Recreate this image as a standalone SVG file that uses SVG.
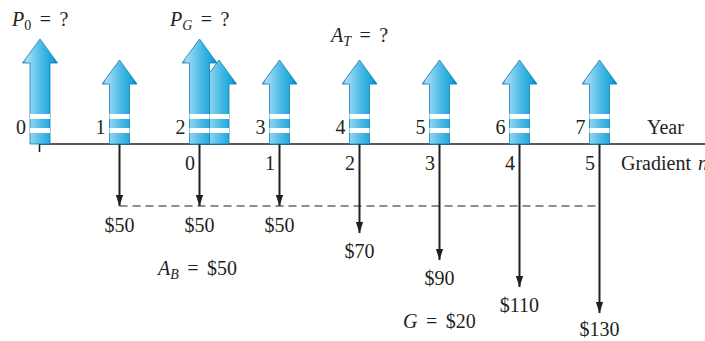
<svg xmlns="http://www.w3.org/2000/svg" width="705" height="341" viewBox="0 0 705 341">
<style>
text{font-family:"Liberation Serif","Times New Roman",serif;font-size:20px;fill:#231f20}
.it{font-style:italic}
.sub{font-size:14px}
.eq{word-spacing:3.5px}
.axis{stroke:#231f20;stroke-width:1.6;fill:none}
.down{stroke:#231f20;stroke-width:2;fill:none;marker-end:url(#ah)}
.dash{stroke:#231f20;stroke-width:1.2;stroke-dasharray:8 5;fill:none}
.up{fill:url(#bg);stroke:#137fb0;stroke-width:0.8}
.gap{fill:#fff}
.mid{text-anchor:middle}
.end{text-anchor:end}
</style>
<defs>
<linearGradient id="bg" x1="0" y1="0" x2="1" y2="0">
<stop offset="0" stop-color="#2f9fd2"/>
<stop offset="0.12" stop-color="#a6dcf3"/>
<stop offset="0.55" stop-color="#48bbe6"/>
<stop offset="0.88" stop-color="#14a2d8"/>
<stop offset="1" stop-color="#0c6e9c"/>
</linearGradient>
<marker id="ah" markerUnits="userSpaceOnUse" markerWidth="11" markerHeight="16" refX="15" refY="5" orient="auto" viewBox="0 0 15 10">
<path d="M0,0 L15,5 L0,10 Z" fill="#231f20"/>
</marker>
<path id="big" d="M-10,144 V63 H-17.5 L0,39 L17.5,63 H10 V144 Z"/>
<path id="small" d="M-10,144 V84 H-17.5 L0,60 L17.5,84 H10 V144 Z"/>
<g id="gaps"><rect x="-10" y="114" width="20" height="5"/><rect x="-10" y="128" width="20" height="5"/></g>
</defs>

<g id="connectors">
<line class="axis" x1="39.5" y1="144" x2="705" y2="144"/>
<line class="axis" x1="39.5" y1="144" x2="39.5" y2="152"/>
<line class="dash" x1="119.5" y1="206" x2="597" y2="206"/>
<line class="down" x1="119.5" y1="144" x2="119.5" y2="206"/>
<line class="down" x1="199.5" y1="144" x2="199.5" y2="206"/>
<line class="down" x1="279.5" y1="144" x2="279.5" y2="206"/>
<line class="down" x1="359.5" y1="144" x2="359.5" y2="233"/>
<line class="down" x1="439.5" y1="144" x2="439.5" y2="260"/>
<line class="down" x1="519.5" y1="144" x2="519.5" y2="287"/>
<line class="down" x1="599.5" y1="144" x2="599.5" y2="313"/>
</g>

<g id="arrow-y0" transform="translate(40,0)"><use href="#big" class="up"/><use href="#gaps" class="gap"/></g>
<g id="arrow-y1" transform="translate(119.5,0)"><use href="#small" class="up"/><use href="#gaps" class="gap"/></g>
<g id="arrow-y2b" transform="translate(219,0)"><use href="#small" class="up"/><use href="#gaps" class="gap"/></g>
<g id="arrow-y2" transform="translate(199.5,0)"><use href="#big" class="up"/><use href="#gaps" class="gap"/></g>
<g id="arrow-y3" transform="translate(279.5,0)"><use href="#small" class="up"/><use href="#gaps" class="gap"/></g>
<g id="arrow-y4" transform="translate(359.5,0)"><use href="#small" class="up"/><use href="#gaps" class="gap"/></g>
<g id="arrow-y5" transform="translate(439.5,0)"><use href="#small" class="up"/><use href="#gaps" class="gap"/></g>
<g id="arrow-y6" transform="translate(519.5,0)"><use href="#small" class="up"/><use href="#gaps" class="gap"/></g>
<g id="arrow-y7" transform="translate(599.5,0)"><use href="#small" class="up"/><use href="#gaps" class="gap"/></g>

<g id="year-labels">
<text class="end" x="26" y="134">0</text>
<text class="end" x="105.5" y="134">1</text>
<text class="end" x="185.5" y="134">2</text>
<text class="end" x="265.5" y="134">3</text>
<text class="end" x="345.5" y="134">4</text>
<text class="end" x="425.5" y="134">5</text>
<text class="end" x="505.5" y="134">6</text>
<text class="end" x="585.5" y="134">7</text>
<text x="647" y="134">Year</text>
</g>

<g id="gradient-labels">
<text class="end" x="195" y="170">0</text>
<text class="end" x="275" y="170">1</text>
<text class="end" x="355" y="170">2</text>
<text class="end" x="435" y="170">3</text>
<text class="end" x="515" y="170">4</text>
<text class="end" x="595" y="170">5</text>
<text x="621" y="170">Gradient <tspan class="it" x="698">n</tspan></text>
</g>

<g id="amount-labels">
<text class="mid" x="119.5" y="232">$50</text>
<text class="mid" x="199.5" y="232">$50</text>
<text class="mid" x="279.5" y="232">$50</text>
<text class="mid" x="359.5" y="258">$70</text>
<text class="mid" x="439.5" y="285">$90</text>
<text class="mid" x="519.5" y="312">$110</text>
<text class="mid" x="599.5" y="336">$130</text>
</g>

<g id="P0"><text class="eq" x="12" y="26"><tspan class="it">P</tspan><tspan class="sub" dy="4">0</tspan><tspan dy="-4"> = ?</tspan></text></g>
<g id="PG"><text class="eq" x="170" y="26"><tspan class="it">P</tspan><tspan class="sub it" dy="4">G</tspan><tspan dy="-4"> = ?</tspan></text></g>
<g id="AT"><text class="eq" x="331" y="42"><tspan class="it">A</tspan><tspan class="sub it" dy="4">T</tspan><tspan dy="-4"> = ?</tspan></text></g>
<g id="AB"><text class="eq" x="158" y="275"><tspan class="it">A</tspan><tspan class="sub it" dy="4">B</tspan><tspan dy="-4"> = $50</tspan></text></g>
<g id="G"><text class="eq" x="403" y="328"><tspan class="it">G</tspan> = $20</text></g>
</svg>
